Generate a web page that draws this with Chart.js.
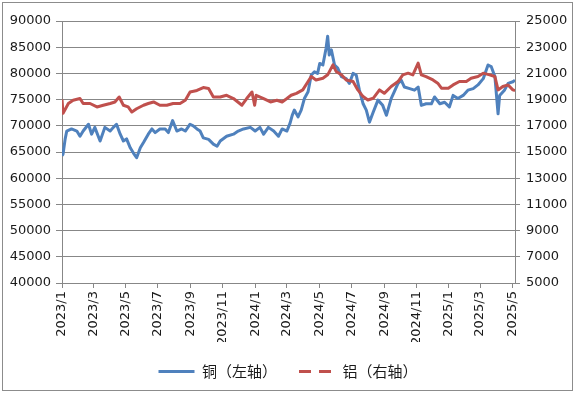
<!DOCTYPE html>
<html>
<head>
<meta charset="utf-8">
<script src="https://cdn.jsdelivr.net/npm/chart.js@4"></script>
<style>
  html, body { margin: 0; padding: 0; background: #fff; }
  #wrap { width: 576px; height: 393px; position: relative; }
</style>
</head>
<body>
<div id="wrap"><canvas id="chart"></canvas></div>
<script>
// copper price (left axis), sampled trading dates
const copperDates = [
  '2023-01-03','2023-01-05','2023-01-09','2023-01-12','2023-01-21','2023-01-31','2023-02-06',
  '2023-02-12','2023-02-22','2023-02-28','2023-03-06','2023-03-16','2023-03-25','2023-04-04',
  '2023-04-10','2023-04-16','2023-04-23','2023-04-29','2023-05-05','2023-05-12','2023-05-18',
  '2023-05-24','2023-05-31','2023-06-06','2023-06-15','2023-06-22','2023-06-28','2023-07-07',
  '2023-07-17','2023-07-23','2023-07-31','2023-08-08','2023-08-17','2023-08-24','2023-09-02',
  '2023-09-08','2023-09-15','2023-09-21','2023-09-27','2023-10-07','2023-10-16','2023-10-23',
  '2023-10-29','2023-11-10','2023-11-23','2023-12-02','2023-12-12','2023-12-25','2024-01-03',
  '2024-01-12','2024-01-19','2024-01-28','2024-02-07','2024-02-16','2024-02-23','2024-03-03',
  '2024-03-05','2024-03-09','2024-03-13','2024-03-17','2024-03-24','2024-03-30','2024-04-05',
  '2024-04-12','2024-04-18','2024-04-24','2024-04-30','2024-05-04','2024-05-10','2024-05-16',
  '2024-05-19','2024-05-22','2024-05-26','2024-06-01','2024-06-07','2024-06-14','2024-06-23',
  '2024-06-29','2024-07-06','2024-07-12','2024-07-18','2024-07-25','2024-07-31','2024-08-06',
  '2024-08-13','2024-08-22','2024-08-31','2024-09-07','2024-09-16','2024-09-22','2024-09-29',
  '2024-10-05','2024-10-11','2024-10-21','2024-10-30','2024-11-06','2024-11-12','2024-11-21',
  '2024-12-01','2024-12-07','2024-12-17','2024-12-26','2025-01-04','2025-01-11','2025-01-20',
  '2025-01-30','2025-02-08','2025-02-18','2025-02-27','2025-03-09','2025-03-18','2025-03-24',
  '2025-03-31','2025-04-06','2025-04-09','2025-04-18','2025-04-25','2025-05-04','2025-05-08'
];
const copper = [
  64300,64600,67500,69000,69400,69000,68000,
  69000,70300,68400,69700,67100,69700,69000,
  69700,70300,68400,67100,67500,65800,64800,
  63900,65800,66800,68400,69400,68700,69400,
  69400,68700,71000,69000,69400,69000,70300,
  70000,69400,69000,67700,67400,66500,66100,
  67100,68000,68400,69000,69400,69700,69000,
  69700,68400,69700,69000,68000,69400,69000,
  69500,70500,72000,73000,71700,73000,75200,
  76500,79700,80300,80000,81900,81600,84800,
  87100,83500,84500,81600,81000,79400,79000,
  78100,80000,79700,76800,74200,73000,70700,
  72600,74900,73900,72000,75200,76500,78100,
  78700,77400,77100,76800,77400,73900,74200,
  74200,75500,74200,74500,73600,75800,75200,
  75800,76800,77100,77800,79000,81600,81300,
  79400,72300,75800,76800,78100,78400,78700
];
// aluminium price (right axis), sampled trading dates
const aluminumDates = [
  '2023-01-03','2023-01-05','2023-01-15','2023-01-24','2023-02-06','2023-02-12','2023-02-25',
  '2023-03-10','2023-03-22','2023-04-04','2023-04-13','2023-04-21','2023-04-29','2023-05-08',
  '2023-05-15','2023-05-24','2023-06-06','2023-06-15','2023-06-25','2023-07-07','2023-07-20',
  '2023-08-01','2023-08-14','2023-08-24','2023-09-02','2023-09-15','2023-09-27','2023-10-07',
  '2023-10-16','2023-10-29','2023-11-10','2023-11-23','2023-12-09','2023-12-18','2023-12-28',
  '2024-01-02','2024-01-05','2024-01-19','2024-02-01','2024-02-13','2024-02-23','2024-03-03',
  '2024-03-11','2024-03-21','2024-04-02','2024-04-12','2024-04-18','2024-04-27','2024-05-10',
  '2024-05-19','2024-05-29','2024-06-04','2024-06-14','2024-06-23','2024-07-06','2024-07-15',
  '2024-07-25','2024-08-03','2024-08-13','2024-08-25','2024-09-03','2024-09-16','2024-09-29',
  '2024-10-08','2024-10-18','2024-10-27','2024-11-06','2024-11-12','2024-11-21','2024-12-04',
  '2024-12-13','2024-12-20','2025-01-02','2025-01-11','2025-01-23','2025-02-05','2025-02-14',
  '2025-02-27','2025-03-09','2025-03-21','2025-03-31','2025-04-06','2025-04-15','2025-04-25',
  '2025-05-04','2025-05-08'
];
const aluminum = [
  19000,17950,18700,18950,19080,18700,18700,
  18440,18570,18700,18820,19200,18570,18440,
  18050,18300,18570,18700,18820,18570,18570,
  18700,18700,18950,19580,19700,19920,19850,
  19200,19200,19330,19080,18570,19080,19580,
  18570,19330,19080,18820,18950,18820,19080,
  19330,19480,19740,20380,20760,20500,20630,
  20890,21650,21150,20890,20500,20380,19740,
  19230,18970,19100,19740,19480,20000,20380,
  20890,21020,20890,21780,20890,20760,20500,
  20250,19870,19870,20120,20380,20380,20630,
  20760,21020,20890,20760,19740,20000,20120,
  19740,19700
];
const xTickLabels = ['2023/1','2023/3','2023/5','2023/7','2023/9','2023/11','2024/1','2024/3',
  '2024/5','2024/7','2024/9','2024/11','2025/1','2025/3','2025/5'];
const xTickDates = ['2023-01-03','2023-03-03','2023-05-03','2023-07-03','2023-09-03','2023-11-03',
  '2024-01-03','2024-03-03','2024-05-03','2024-07-03','2024-09-03','2024-11-03','2025-01-03',
  '2025-03-03','2025-05-03'];
const seriesNames = ['铜（左轴）', '铝（右轴）'];

const dayNum = s => Date.UTC(+s.slice(0, 4), +s.slice(5, 7) - 1, +s.slice(8, 10)) / 864e5;
const base = dayNum(copperDates[0]);
const toXY = (ds, vals) => vals.map((v, i) => ({ x: dayNum(ds[i]) - base, y: v }));

const gridCol = '#878787';
const textCol = '#1a1a1a';
const tickFont = { family: 'DejaVu Sans', size: 13 };

const frame = {
  id: 'frame',
  beforeDraw(chart) {
    const ctx = chart.ctx;
    ctx.save();
    ctx.fillStyle = '#fff';
    ctx.fillRect(0, 0, chart.width, chart.height);
    ctx.strokeStyle = '#8c8c8c';
    ctx.lineWidth = 1;
    ctx.strokeRect(2.5, 2.5, 570, 388);
    ctx.restore();
  }
};

new Chart(document.getElementById('chart'), {
  type: 'line',
  data: {
    datasets: [
      {
        label: seriesNames[0],
        data: toXY(copperDates, copper),
        yAxisID: 'y',
        borderColor: '#4f81bd',
        backgroundColor: '#4f81bd',
        borderWidth: 3,
        borderJoinStyle: 'round',
        pointRadius: 0,
        order: 1
      },
      {
        label: seriesNames[1],
        data: toXY(aluminumDates, aluminum),
        yAxisID: 'y1',
        borderColor: '#c0504d',
        backgroundColor: '#c0504d',
        borderWidth: 3,
        borderJoinStyle: 'round',
        pointRadius: 0,
        order: 0
      }
    ]
  },
  options: {
    responsive: true,
    maintainAspectRatio: false,
    animation: false,
    devicePixelRatio: 1,
    layout: { padding: { top: 21, left: 0, right: 0, bottom: 4 } },
    plugins: {
      tooltip: { enabled: false },
      legend: {
        position: 'bottom',
        maxHeight: 50,
        labels: {
          usePointStyle: true,
          pointStyle: 'line',
          pointStyleWidth: 36,
          padding: 22,
          color: textCol,
          font: { family: "'Noto Sans CJK SC'", size: 15 },
          sort: (a, b) => a.datasetIndex - b.datasetIndex,
          generateLabels: chart => {
            const items = Chart.defaults.plugins.legend.labels.generateLabels(chart);
            items.forEach(it => {
              it.lineDash = it.datasetIndex === 1 ? [12, 8] : [];
            });
            return items;
          }
        }
      }
    },
    scales: {
      x: {
        type: 'linear',
        min: 0,
        max: dayNum(copperDates[copperDates.length - 1]) - base,
        afterBuildTicks: scale => {
          scale.ticks = xTickDates.map(d => ({ value: dayNum(d) - base }));
        },
        afterFit: scale => { scale.height = 59; },
        ticks: {
          autoSkip: false,
          minRotation: 90,
          maxRotation: 90,
          padding: 3,
          color: textCol,
          font: tickFont,
          callback: (v, i) => xTickLabels[i]
        },
        grid: { drawOnChartArea: false, color: gridCol, tickLength: 5 },
        border: { color: gridCol }
      },
      y: {
        position: 'left',
        min: 40000,
        max: 90000,
        afterFit: scale => { scale.width = 62; },
        ticks: {
          stepSize: 5000,
          padding: 5,
          color: textCol,
          font: tickFont,
          callback: v => String(v)
        },
        grid: { color: gridCol, tickLength: 6 },
        border: { color: gridCol }
      },
      y1: {
        position: 'right',
        min: 5000,
        max: 25000,
        afterFit: scale => { scale.width = 61; },
        ticks: {
          stepSize: 2000,
          padding: 6,
          color: textCol,
          font: tickFont,
          callback: v => String(v)
        },
        grid: { drawOnChartArea: false, color: gridCol, tickLength: 5 },
        border: { color: gridCol }
      }
    }
  },
  plugins: [frame]
});
</script>
</body>
</html>
